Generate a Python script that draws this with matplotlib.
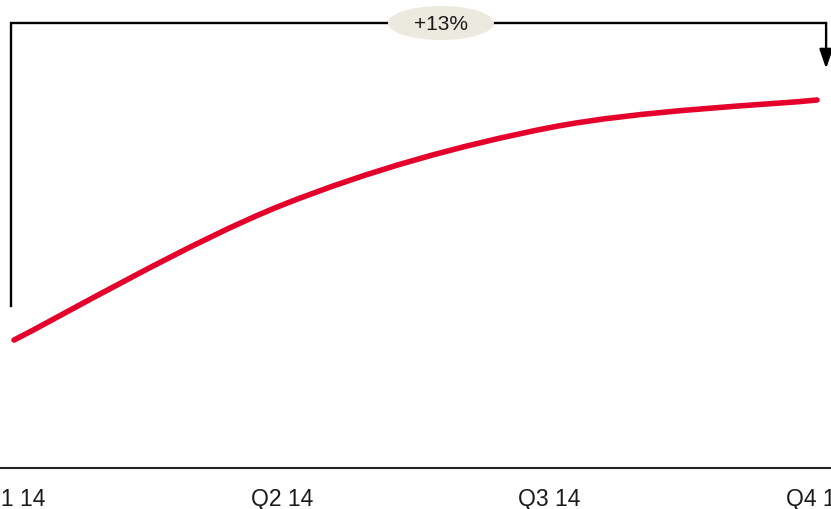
import numpy as np
import matplotlib
matplotlib.use("Agg")
import matplotlib.pyplot as plt
from matplotlib.path import Path
from matplotlib.patches import PathPatch, Ellipse

plt.rcParams['font.family'] = ['Liberation Sans', 'DejaVu Sans']

# quarterly index values
quarters = ['Q1 14', 'Q2 14', 'Q3 14', 'Q4 14']
values = [100.0, 107.3, 111.5, 113.0]

LINE_RED = '#E4002B'
BUBBLE = '#ECEADF'


def smooth_path(xs, ys):
    """Cubic Bezier path through the points (Catmull-Rom style tangents)."""
    pts = np.column_stack([xs, ys])
    ext = np.vstack([pts[0], pts, pts[-1]])
    verts = [pts[0]]
    codes = [Path.MOVETO]
    for i in range(len(pts) - 1):
        p0, p1, p2, p3 = ext[i], ext[i + 1], ext[i + 2], ext[i + 3]
        c1 = p1 + (p2 - p0) / 6.0
        c2 = p2 - (p3 - p1) / 6.0
        verts += [c1, c2, p2]
        codes += [Path.CURVE4] * 3
    return Path(verts, codes)


fig = plt.figure(figsize=(8.31, 5.10), dpi=100)
ax = fig.add_axes([0, 41 / 510, 1, 469 / 510])

x = np.arange(len(quarters))
ax.set_xlim(-0.0523, 3.0523)
ax.set_ylim(93.07, 118.47)

ax.add_patch(PathPatch(smooth_path(x, values), fill=False, edgecolor=LINE_RED,
                       lw=4.0, capstyle='round', zorder=3))

# growth bracket from first to last quarter
growth = (values[-1] / values[0] - 1) * 100
top = 117.17
left_x, right_x = x[0] - 0.011, x[-1] + 0.034
ax.plot([left_x, left_x, right_x, right_x],
        [values[0] + 1.85, top, top, top], color='black', lw=1.7,
        solid_joinstyle='miter', zorder=2)
ax.annotate('', xy=(right_x, values[-1] + 1.7), xytext=(right_x, top),
            arrowprops=dict(arrowstyle='-|>,head_length=0.58,head_width=0.2',
                            mutation_scale=20, color='black', lw=1.7,
                            shrinkA=0, shrinkB=0), zorder=2)

bx = 1.595
ax.add_patch(Ellipse((bx, top), 106 / 267.67, 34 / 18.46, facecolor=BUBBLE,
                     edgecolor='none', zorder=4))
ax.text(bx, top, f'+{growth:.0f}%', ha='center', va='center', fontsize=15,
        color='#1a1a1a', zorder=5)

ax.set_xticks(x)
ax.set_xticklabels(quarters, fontsize=16.5, color='#1a1a1a')
ax.tick_params(axis='x', length=0, pad=14)
ax.set_yticks([])
for side in ['top', 'left', 'right']:
    ax.spines[side].set_visible(False)
ax.spines['bottom'].set_linewidth(1.5)
ax.spines['bottom'].set_color('#222222')

fig.savefig('out.png', dpi=100)
